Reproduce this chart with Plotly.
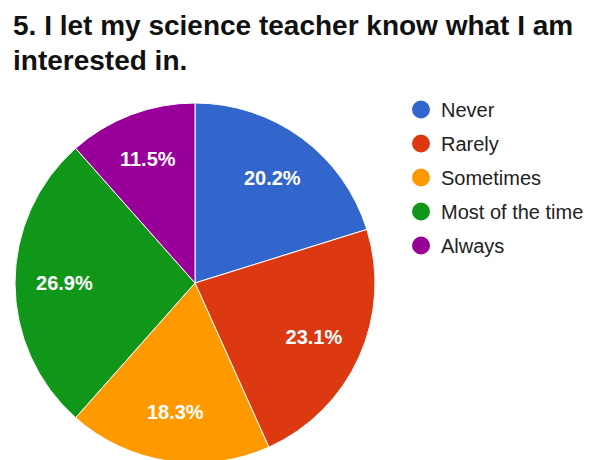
import plotly.graph_objects as go

categories = ["Never", "Rarely", "Sometimes", "Most of the time", "Always"]
counts = [21, 24, 19, 28, 12]
colors = ["#3366cc", "#dc3912", "#ff9900", "#109618", "#990099"]
title_lines = ["5. I let my science teacher know what I am", "interested in."]

W, H = 594, 460
OFF = 8  # page body margin
# pie area in screen pixels
left, right, top, bottom = 15, 375, 103, 463
dom = dict(x=[(left - OFF) / W, (right - OFF) / W],
           y=[1 - (bottom - OFF) / H, 1 - (top - OFF) / H])
FONT = "Liberation Sans, Arial"

fig = go.Figure()
fig.add_trace(go.Pie(
    labels=categories, values=counts, sort=False, direction="clockwise", rotation=0,
    marker=dict(colors=colors, line=dict(color="white", width=1)),
    textinfo="none", showlegend=False, hoverinfo="label+percent",
    domain=dom,
))
# transparent ring carrying the percentage labels further out
fig.add_trace(go.Pie(
    labels=categories, values=counts, sort=False, direction="clockwise", rotation=0,
    hole=0.45,
    marker=dict(colors=["rgba(0,0,0,0)"] * len(categories), line=dict(width=0)),
    texttemplate="%{percent:.1%}", textposition="inside", insidetextorientation="horizontal",
    textfont=dict(family=FONT, size=20, color="white", weight="bold"),
    showlegend=False, hoverinfo="skip",
    domain=dom,
))
for i, (c, col) in enumerate(zip(categories, colors)):
    fig.add_trace(go.Scatter(
        x=[None], y=[None], mode="markers", name=c, legendgroup=f"g{i}",
        marker=dict(color=col, size=16, line=dict(color=col, width=2)),
        showlegend=True,
    ))

for txt, yc in zip(title_lines, [17, 52]):
    fig.add_annotation(
        text=txt, x=3 / W, y=1 - yc / H, xref="paper", yref="paper",
        xanchor="left", yanchor="middle", showarrow=False,
        font=dict(family=FONT, size=28, color="#111111", weight="bold"),
    )

fig.update_layout(
    width=W, height=H, margin=dict(l=0, r=0, t=0, b=0, autoexpand=False),
    paper_bgcolor="white", plot_bgcolor="white",
    xaxis=dict(visible=False), yaxis=dict(visible=False),
    legend=dict(x=393 / W, xanchor="left", y=1 - 82 / H, yanchor="top",
                font=dict(family=FONT, size=20, color="#222222"),
                tracegroupgap=5, bgcolor="rgba(0,0,0,0)"),
)
fig.write_html("out.html")
